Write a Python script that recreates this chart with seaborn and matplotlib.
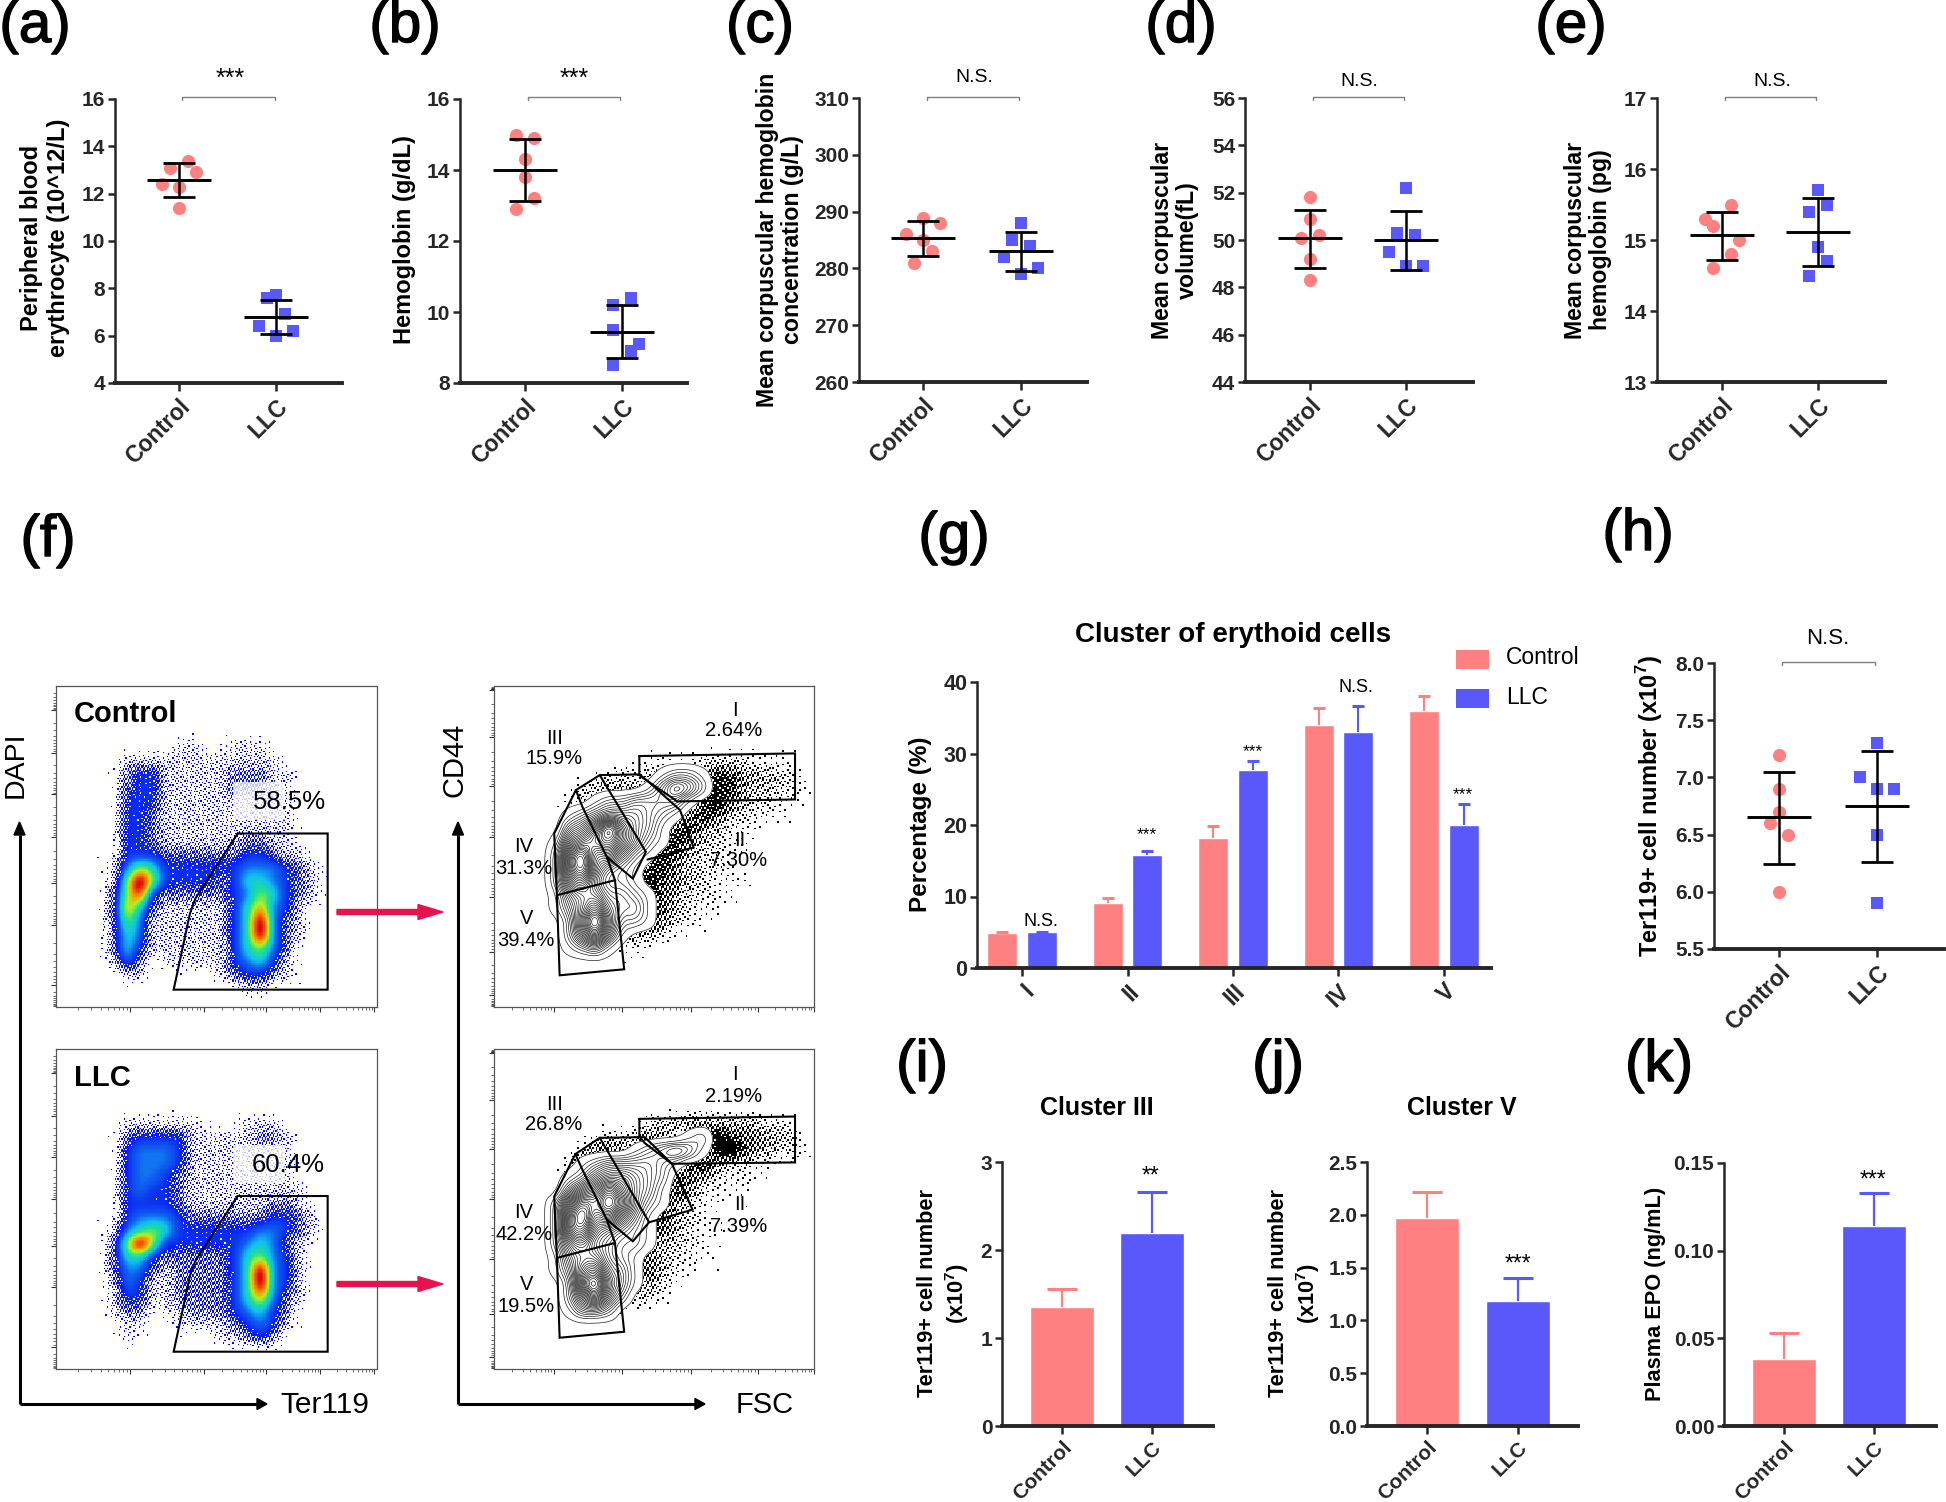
import numpy as np
import pandas as pd
import matplotlib
matplotlib.use("Agg")
import matplotlib.pyplot as plt
import matplotlib.patheffects as pe
from matplotlib.colors import LinearSegmentedColormap
from matplotlib.patches import Rectangle
import seaborn as sns

# colours
PINK = "#FF8080"
BLUE = "#5858FB"
GROUPS = ["Control", "LLC"]

# (a)-(e), (h): individual animals, with the sideways slot of each dot
rbc_ctrl = [13.4, 13.1, 12.9, 12.4, 12.3, 11.4]
rbc_ctrl_slot = [1, -1, 2, -2, 0, 0]
rbc_llc = [7.7, 7.6, 6.9, 6.4, 6.2, 6.0]
rbc_llc_slot = [0, -1, 1, -2, 2, 0]
rbc_mean, rbc_lo, rbc_hi = [12.56, 6.8], [11.86, 6.07], [13.28, 7.52]

hb_ctrl = [15.0, 14.9, 14.3, 13.8, 13.2, 12.9]
hb_ctrl_slot = [-1, 1, 0, 0, 1, -1]
hb_llc = [10.4, 10.2, 9.5, 9.1, 8.9, 8.5]
hb_llc_slot = [1, -1, -1, 2, 1, -1]
hb_mean, hb_lo, hb_hi = [14.0, 9.44], [13.14, 8.7], [14.87, 10.2]

mchc_ctrl = [288.9, 288, 286, 285, 283, 281]
mchc_ctrl_slot = [0, 2, -2, 0, 1, -1]
mchc_llc = [288, 285, 284, 282, 280, 279]
mchc_llc_slot = [0, -1, 1, -2, 2, 0]
mchc_mean, mchc_lo, mchc_hi = [285.3, 283], [282.2, 279.6], [288.3, 286.4]

mcv_ctrl = [51.8, 50.9, 50.2, 50.1, 49.2, 48.3]
mcv_ctrl_slot = [0, 0, 1, -1, 0, 0]
mcv_llc = [52.2, 50.3, 50.2, 49.5, 48.9, 48.9]
mcv_llc_slot = [0, -1, 1, -2, 0, 2]
mcv_mean, mcv_lo, mcv_hi = [50.07, 49.99], [48.83, 48.75], [51.28, 51.23]

mch_ctrl = [15.5, 15.3, 15.2, 15.0, 14.8, 14.6]
mch_ctrl_slot = [1, -2, -1, 2, 1, -1]
mch_llc = [15.7, 15.5, 15.4, 14.9, 14.7, 14.5]
mch_llc_slot = [0, 1, -1, 0, 1, -1]
mch_mean, mch_lo, mch_hi = [15.07, 15.11], [14.72, 14.63], [15.39, 15.59]

ter_ctrl = [7.2, 6.9, 6.7, 6.6, 6.5, 6.0]
ter_ctrl_slot = [0, 0, 0, -1, 1, 0]
ter_llc = [7.3, 7.0, 6.9, 6.9, 6.5, 5.9]
ter_llc_slot = [0, -2, 0, 2, 0, 0]
ter_mean, ter_lo, ter_hi = [6.65, 6.75], [6.24, 6.26], [7.05, 7.23]

# (g)
clusters = ["I", "II", "III", "IV", "V"]
cluster_ctrl = [4.9, 9.1, 18.2, 34.0, 35.9]
cluster_llc = [5.0, 15.8, 27.7, 33.0, 20.0]
cluster_ctrl_top = [5.0, 9.8, 19.8, 36.4, 38.0]
cluster_llc_top = [5.05, 16.3, 29.0, 36.6, 22.9]

# (i), (j), (k)
c3_vals, c3_top = [1.35, 2.19], [1.56, 2.66]
c5_vals, c5_top = [1.97, 1.18], [2.22, 1.40]
epo_vals, epo_top = [0.038, 0.114], [0.053, 0.133]

# (f): flow plots, density levels 0-9 read by eye on a 24x24 grid of each box
ctrl_density = [
    "", "", "", "",
    "00000000011001110",
    "000001111111111110",
    "000002331111122211",
    "000002331111122211",
    "000003331111111111",
    "000003321111111111",
    "000003321111111111",
    "000003321111112211",
    "0000033322222233211",
    "00001465333333444321",
    "00001696333323554321",
    "00002683222223465321",
    "0000275211111357431",
    "0000264111111359421",
    "0000254111111359421",
    "000025311111135642",
    "000014201111134531",
    "000001100000123321",
    "0000000000000011",
    "",
]
llc_density = [
    "", "", "", "", "",
    "000001111110001110",
    "000002333311111221",
    "000003444311111111",
    "000003444311111111",
    "000003443211111111",
    "0000034332111111111",
    "0000033332111111221",
    "00000344432222223321",
    "00001456533333344321",
    "0000269633333345421",
    "0000255322222356431",
    "0000244212222359431",
    "0000143112222359431",
    "0000133112222357421",
    "000012201122234532",
    "000001100111123431",
    "00000100000011232",
    "",
    "",
]
ctrl_contour = [
    "", "", "", "", "", "",
    "000000000000122100",
    "0000000000013542",
    "000000012233331",
    "00000123444321",
    "0000034696431",
    "0000156786421",
    "000027956421",
    "00002795321",
    "00002674221",
    "000014553321",
    "000013574331",
    "000002695221",
    "0000025741",
    "000001231",
    "", "", "", "",
]
llc_contour = [
    "", "", "", "", "", "",
    "0000000000000012",
    "0000000000123431",
    "00000012333321",
    "0000012455432",
    "0000035686431",
    "0000268797421",
    "000027967531",
    "000027854321",
    "000025643221",
    "00001455321",
    "00001367431",
    "00000279531",
    "0000025742",
    "000001332",
    "", "", "", "",
]
ctrl_dots = [
    "", "", "", "", "",
    "00000000000111122221111",
    "00000000121320036543321",
    "00000013444300027643322",
    "00000133100000057532211",
    "0000000000000046532211",
    "00000000000005643211",
    "0000000000005743211",
    "0000000000046532211",
    "000000000006643221",
    "0000000000375432111",
    "000000000006532211",
    "00000000000553211",
    "0000000000154211",
    "00000000034321",
    "00000000011",
    "", "", "", "",
]
llc_dots = [
    "", "", "", "", "",
    "00000000000234444333221",
    "00000001223530058654332",
    "000000255430000069643221",
    "000002530000005742211",
    "00000000000004532111",
    "0000000000003642111",
    "00000000000254211",
    "0000000000045321",
    "00000000002553211",
    "0000000000453221",
    "0000000000443211",
    "000000000035311",
    "00000000002421",
    "0000000002321",
    "0000000001",
    "", "", "", "",
]

# gates, in the coordinates of the zoomed crop of each box
density_gate = [(438, 520), (604, 520), (604, 988), (320, 988), (350, 760), (360, 715), (438, 520)]
ctrl_gates = [
    [(1180, 288), (1467, 280), (1467, 418), (1250, 424), (1197, 365), (1180, 345), (1180, 288)],
    [(1107, 345), (1180, 343), (1197, 365), (1255, 450), (1280, 562), (1195, 598)],
    [(1063, 390), (1107, 345), (1192, 575), (1168, 655), (1120, 590), (1075, 440), (1063, 390)],
    [(1063, 390), (1023, 520), (1028, 705), (1135, 660), (1120, 590)],
    [(1028, 705), (1033, 945), (1152, 927), (1135, 660)],
]
llc_gates = [
    [(1180, 267), (1467, 260), (1467, 398), (1240, 402), (1190, 340), (1180, 320), (1180, 267)],
    [(1107, 324), (1190, 322), (1240, 402), (1278, 540), (1198, 578)],
    [(1062, 373), (1107, 324), (1198, 578), (1168, 635), (1120, 570), (1075, 420), (1062, 373)],
    [(1062, 373), (1023, 500), (1028, 685), (1135, 640), (1120, 570)],
    [(1028, 685), (1033, 925), (1152, 907), (1135, 640)],
]

sns.set_theme(style="ticks")
plt.rcParams["font.family"] = ["Liberation Sans", "DejaVu Sans"]
plt.rcParams["mathtext.fontset"] = "custom"
plt.rcParams["mathtext.bf"] = "Liberation Sans:bold"
plt.rcParams["mathtext.rm"] = "Liberation Sans"

W, H = 1946, 1502
fig = plt.figure(figsize=(W / 100, H / 100), dpi=100, facecolor="white")


def axes_px(left, right, top, bottom):
    return fig.add_axes([left / W, 1 - bottom / H, (right - left) / W, (bottom - top) / H])


# everything that is not on a plot axis goes on this overlay, in pixels
overlay = fig.add_axes([0, 0, 1, 1], zorder=10)
overlay.set_xlim(0, W)
overlay.set_ylim(H, 0)
overlay.axis("off")
overlay.patch.set_visible(False)


def label(x, y, s, size, bold=False, rot=0, ha="center", color="black", ls=1.0):
    return overlay.text(x, y + (2 if rot == 0 else 0), s, fontsize=size,
                        fontweight="bold" if bold else "normal", rotation=rot, ha=ha, va="center",
                        color=color, linespacing=ls, rotation_mode="anchor")


def bracket(x0, x1, y):
    overlay.plot([x0, x0, x1, x1], [y + 3, y, y, y + 3], color="#808080", lw=1.0)


def style_axis(ax, yticks, yfmt, tick_size=15, x_size=16.5):
    sns.despine(ax=ax)
    ax.spines["left"].set_linewidth(1.8)
    ax.spines["bottom"].set_linewidth(2.8)
    ax.tick_params(axis="y", length=5, width=1.8, pad=2, labelsize=tick_size)
    ax.tick_params(axis="x", length=5.5, width=1.8, pad=3)
    ax.set_yticks(yticks)
    ax.set_yticklabels([yfmt % v for v in yticks], fontweight="bold")
    plt.setp(ax.get_xticklabels(), rotation=45, ha="right", rotation_mode="anchor",
             fontweight="bold", fontsize=x_size)
    ax.set_xlabel("")
    ax.set_ylabel("")


def dot_panel(box, ctrl, ctrl_slot, llc, llc_slot, mean, lo, hi, yticks, yfmt="%d"):
    left, right, top, bottom, x_ctrl, x_llc = box
    ax = axes_px(left, right, top, bottom)
    step = x_llc - x_ctrl
    slot = 8.6 / step
    sns.scatterplot(x=np.array(ctrl_slot) * slot, y=ctrl, color=PINK, s=90, marker="o", linewidth=0,
                    ax=ax, clip_on=False)
    sns.scatterplot(x=1 + np.array(llc_slot) * slot, y=llc, color=BLUE, s=85, marker="s", linewidth=0,
                    ax=ax, clip_on=False)
    ax.set_xlim((left - x_ctrl) / step, (right - x_ctrl) / step)
    ax.set_ylim(yticks[0], yticks[-1])
    ax.set_xticks([0, 1])
    ax.set_xticklabels(GROUPS)
    mean, lo, hi = np.array(mean), np.array(lo), np.array(hi)
    ax.errorbar([0, 1], mean, yerr=[mean - lo, hi - mean], fmt="none", ecolor="black",
                elinewidth=1.8, capsize=11.5, capthick=2, zorder=6)
    ax.hlines(mean, [-0.33, 0.67], [0.33, 1.33], color="black", lw=2.1, zorder=6)
    style_axis(ax, yticks, yfmt)
    return ax


def upper_error(ax, x, val, tp, col, lw, cap):
    # only the upper whisker, no cap on the bar top
    ax.vlines(x, val, tp, color=col, lw=lw)
    ax.plot([x], [tp], marker="_", markersize=cap, markeredgewidth=2.2, color=col, clip_on=False)


def bar_panel(box, vals, tops, yticks, yfmt):
    left, right, top, bottom, x_ctrl, x_llc = box
    ax = axes_px(left, right, top, bottom)
    sns.barplot(x=GROUPS, y=vals, hue=GROUPS, palette=[PINK, BLUE], width=0.71, legend=False,
                errorbar=None, saturation=1, ax=ax)
    step = x_llc - x_ctrl
    ax.set_xlim((left - x_ctrl) / step, (right - x_ctrl) / step)
    ax.set_ylim(yticks[0], yticks[-1])
    for i, col in enumerate([PINK, BLUE]):
        upper_error(ax, i, vals[i], tops[i], col, 1.6, 22)
    style_axis(ax, yticks, yfmt, x_size=15)
    return ax


# (a)-(e)
dot_panel((115, 342, 99, 383, 179, 276), rbc_ctrl, rbc_ctrl_slot, rbc_llc, rbc_llc_slot,
          rbc_mean, rbc_lo, rbc_hi, [4, 6, 8, 10, 12, 14, 16])
dot_panel((460, 687, 99, 383, 525, 622), hb_ctrl, hb_ctrl_slot, hb_llc, hb_llc_slot,
          hb_mean, hb_lo, hb_hi, [8, 10, 12, 14, 16])
dot_panel((859, 1087, 98, 382, 923, 1021), mchc_ctrl, mchc_ctrl_slot, mchc_llc, mchc_llc_slot,
          mchc_mean, mchc_lo, mchc_hi, [260, 270, 280, 290, 300, 310])
dot_panel((1245, 1473, 98, 382, 1310, 1406), mcv_ctrl, mcv_ctrl_slot, mcv_llc, mcv_llc_slot,
          mcv_mean, mcv_lo, mcv_hi, [44, 46, 48, 50, 52, 54, 56])
dot_panel((1657, 1885, 98, 382, 1722, 1818), mch_ctrl, mch_ctrl_slot, mch_llc, mch_llc_slot,
          mch_mean, mch_lo, mch_hi, [13, 14, 15, 16, 17])
# (h)
dot_panel((1714, 1944, 663, 949, 1779, 1877), ter_ctrl, ter_ctrl_slot, ter_llc, ter_llc_slot,
          ter_mean, ter_lo, ter_hi, [5.5, 6.0, 6.5, 7.0, 7.5, 8.0], "%.1f")

# (g)
ax_g = axes_px(977, 1491, 682, 968)
df_g = pd.DataFrame({
    "cluster": clusters * 2,
    "pct": cluster_ctrl + cluster_llc,
    "group": ["Control"] * 5 + ["LLC"] * 5,
})
sns.barplot(data=df_g, x="cluster", y="pct", hue="group", order=clusters, hue_order=GROUPS,
            palette=[PINK, BLUE], width=0.754, gap=0.245, legend=False, errorbar=None, saturation=1, ax=ax_g)
ax_g.set_xlim(-0.427, 4.446)
ax_g.set_ylim(0, 40)
for bars, tops, col in zip(ax_g.containers, [cluster_ctrl_top, cluster_llc_top], [PINK, BLUE]):
    for bar, tp in zip(bars, tops):
        upper_error(ax_g, bar.get_x() + bar.get_width() / 2, bar.get_height(), tp, col, 1.5, 9.2)
style_axis(ax_g, [0, 10, 20, 30, 40], "%d", tick_size=15.5, x_size=16.5)

# (i), (j), (k)
bar_panel((1002, 1213, 1162, 1426, 1062, 1152), c3_vals, c3_top, [0, 1, 2, 3], "%d")
bar_panel((1367, 1578, 1162, 1426, 1427, 1518), c5_vals, c5_top, [0, 0.5, 1.0, 1.5, 2.0, 2.5], "%.1f")
bar_panel((1724, 1936, 1163, 1426, 1784, 1874), epo_vals, epo_top, [0, 0.05, 0.10, 0.15], "%.2f")


# (f): the flow plots are rebuilt from the hand-read grids above
def read_grid(rows):
    return np.array([[int(c) for c in r.ljust(24, "0")] for r in rows], dtype=float)


def upsample(rows, n):
    z = np.kron(read_grid(rows), np.ones((n, n)))
    kernel = np.ones(n) / n
    for _ in range(2):
        z = np.apply_along_axis(lambda v: np.convolve(v, kernel, mode="same"), 0, z)
        z = np.apply_along_axis(lambda v: np.convolve(v, kernel, mode="same"), 1, z)
    return z


def dither(shape):
    # fixed low-discrepancy threshold, turns a level into a share of speckled dots
    i, j = np.indices(shape)
    return (i * 0.7549 + j * 0.5698) % 1.0


jet_like = LinearSegmentedColormap.from_list("flow", [
    (0.0, "#0000FF"), (0.22, "#0A20F0"), (0.38, "#1060F0"), (0.5, "#10C0F0"),
    (0.62, "#20E090"), (0.74, "#B0F020"), (0.86, "#FF9000"), (1.0, "#E00808"),
])


def flow_box(ax, x_major, y_major):
    for s in ax.spines.values():
        s.set_visible(True)
        s.set_linewidth(0.9)
        s.set_color("#555555")
    x_minor = []
    edges = [0] + list(x_major)
    for a, b in zip(edges[:-1], edges[1:]):
        x_minor += list(a + (b - a) * np.log10(np.arange(2, 10)))
    y_minor = []
    edges = [0] + list(y_major) + [100]
    for a, b in zip(edges[:-1], edges[1:]):
        y_minor += list(a + (b - a) * np.log10(np.arange(2, 10)))
    ax.set_xticks(x_major)
    ax.set_xticks(x_minor, minor=True)
    ax.set_yticks(y_major)
    ax.set_yticks(y_minor, minor=True)
    ax.set_xticklabels([])
    ax.set_yticklabels([])
    ax.tick_params(which="major", length=3.5, width=0.8, color="#333333")
    ax.tick_params(which="minor", length=2, width=0.5, color="#333333")
    ax.set_xlim(0, 100)
    ax.set_ylim(100, 0)
    sns.despine(ax=ax, top=False, right=False)


def draw_gate(ax, pts, x0, y0, w, h, lw=1.5):
    arr = np.array(pts, dtype=float)
    ax.plot((arr[:, 0] - x0) / w * 100, (arr[:, 1] - y0) / h * 100, color="black", lw=lw,
            solid_joinstyle="miter", zorder=5)


def density_panel(box, rows):
    ax = axes_px(*box)
    z = upsample(rows, 10)
    z = z / z.max() * 9
    rgba = jet_like(np.clip((z - 1.5) / 7.5, 0, 1))
    keep = np.clip(z / 3.5, 0, 1) ** 1.5 > dither(z.shape)
    rgba[~keep] = (1, 1, 1, 1)
    ax.imshow(rgba, extent=(-1.35, 98.65, 100, 0), interpolation="nearest", aspect="auto", zorder=1)
    ax.add_patch(Rectangle((55.2, 29.9), 16, 12, facecolor="white", alpha=0.75, edgecolor="none", zorder=2))
    draw_gate(ax, density_gate, 103, 78, 592, 962)
    flow_box(ax, [23.1, 46, 65.4, 82.3, 99.2], [7.5, 20.8, 33.8, 47, 61.5, 74.5, 93.2])


def contour_panel(box, dot_rows, contour_rows, gates, gate_top):
    ax = axes_px(*box)
    d = upsample(dot_rows, 8)
    mask = (d / 7) ** 1.3 > dither(d.shape)
    rgba = np.ones(mask.shape + (4,))
    rgba[mask] = (0, 0, 0, 1)
    ax.imshow(rgba, extent=(0, 100, 100, 0), interpolation="nearest", aspect="auto", zorder=1)
    z = upsample(contour_rows, 8)
    z = z / z.max() * 9
    n = z.shape[0]
    xs = (np.arange(n) + 0.5) / n * 100
    ax.contourf(xs, xs, z, levels=[0.5, 20], colors="white", zorder=2)
    levels = 0.5 + 8.3 * np.linspace(0, 1, 28) ** 0.7
    ax.contour(xs, xs, z, levels=levels, colors="#202020", linewidths=0.5, zorder=3)
    for g in gates:
        draw_gate(ax, g, 912, gate_top, 590, 962)
    flow_box(ax, [18.8, 40, 61.5, 82.5, 100], [1.2, 16, 31.2, 47, 65.7, 82.8, 96.4])


density_panel((56, 377, 686, 1007), ctrl_density)
density_panel((56, 377, 1049, 1369), llc_density)
contour_panel((494, 814, 686, 1007), ctrl_dots, ctrl_contour, ctrl_gates, 78)
contour_panel((494, 814, 1049, 1369), llc_dots, llc_contour, llc_gates, 57)

# flow axes arrows
for xv, xh in [(19.5, 267), (458, 705)]:
    overlay.plot([xv, xv], [1404, 835], color="black", lw=2.2, solid_capstyle="butt")
    overlay.plot([xv, xh - 10], [1404, 1404], color="black", lw=2.2, solid_capstyle="butt")
    overlay.arrow(xv, 835, 0, -13, width=0.1, head_width=11, head_length=13, color="black",
                  length_includes_head=True)
    overlay.arrow(xh - 10, 1404, 10, 0, width=0.1, head_width=11, head_length=10, color="black",
                  length_includes_head=True)
for y in [912, 1284]:
    overlay.arrow(337, y, 106, 0, width=5, head_width=15, head_length=25, color="#E8134E",
                  length_includes_head=True)

label(16, 765, "DAPI", 20.5, rot=90)
label(454, 760, "CD44", 21, rot=90)
label(325, 1403, "Ter119", 21.5)
label(765, 1403, "FSC", 21)
label(74, 712, "Control", 21, bold=True, ha="left")
label(74, 1076, "LLC", 21, bold=True, ha="left")
label(289, 800, "58.5%", 18.5)
label(288, 1163, "60.4%", 18.5)

# gate labels: full px centres
flow_ctrl_txt = [(735, 708, "I"), (734, 729, "2.64%"), (555, 737, "III"), (554, 757, "15.9%"),
                 (524, 845, "IV"), (524, 867, "31.3%"), (527, 917, "V"), (526, 939, "39.4%"),
                 (740, 838, "II"), (739, 859, "7.30%")]
flow_llc_txt = [(735, 1073, "I"), (734, 1095, "2.19%"), (555, 1102, "III"), (554, 1123, "26.8%"),
                (524, 1211, "IV"), (524, 1232, "42.2%"), (527, 1282, "V"), (526, 1304, "19.5%"),
                (740, 1203, "II"), (739, 1224, "7.39%")]
for x, y, s in flow_ctrl_txt + flow_llc_txt:
    label(x, y, s, 14.5)

# panel letters, a bit heavier than regular
for x, y, s in [(35, 25, "(a)"), (405, 25, "(b)"), (760, 25, "(c)"), (1181, 25, "(d)"), (1571, 25, "(e)"),
                (48, 539, "(f)"), (954, 536, "(g)"), (1638, 533, "(h)"),
                (922, 1064, "(i)"), (1278, 1064, "(j)"), (1659, 1064, "(k)")]:
    t = label(x, y, s, 42)
    t.set_path_effects([pe.withStroke(linewidth=1.0, foreground="black")])

# y labels
label(45, 238, "Peripheral blood\nerythrocyte (10^12/L)", 17, bold=True, rot=90, ls=1.25)
label(404, 240, "Hemoglobin (g/dL)", 17, bold=True, rot=90)
label(780, 240, "Mean corpuscular hemoglobin\nconcentration (g/L)", 16.7, bold=True, rot=90, ls=1.12)
label(1175, 240, "Mean corpuscular\nvolume(fL)", 16.7, bold=True, rot=90, ls=1.12)
label(1588, 240, "Mean corpuscular\nhemoglobin (pg)", 16.7, bold=True, rot=90, ls=1.12)
label(920, 824, "Percentage (%)", 17.5, bold=True, rot=90)
label(1650, 806, r"Ter119+ cell number (x10$^{\mathbf{7}}$)", 17, bold=True, rot=90)
label(944, 1293, "Ter119+ cell number\n" + r"(x10$^{\mathbf{7}}$)", 15.7, bold=True, rot=90, ls=1.25)
label(1295, 1293, "Ter119+ cell number\n" + r"(x10$^{\mathbf{7}}$)", 15.7, bold=True, rot=90, ls=1.25)
label(1656, 1294, "Plasma EPO (ng/mL)", 15.7, bold=True, rot=90)

# significance marks
bracket(182, 275, 97)
bracket(528, 620, 97)
bracket(927, 1019, 97)
bracket(1313, 1404, 97)
bracket(1725, 1816, 97)
bracket(1782, 1875, 662)
label(230, 77, "***", 18)
label(574, 77, "***", 18)
label(974, 75, "N.S.", 14)
label(1359, 80, "N.S.", 14)
label(1772, 80, "N.S.", 14)
label(1828, 636, "N.S.", 16)
label(1041, 919, "N.S.", 13)
label(1356, 686, "N.S.", 13)
label(1147, 833, "***", 12.5)
label(1253, 750, "***", 12.5)
label(1463, 793, "***", 12.5)
label(1151, 1174, "**", 16.5)
label(1518, 1262, "***", 16.5)
label(1873, 1178, "***", 16.5)

# titles and legend of (g)
label(1233, 633, "Cluster of erythoid cells", 20, bold=True)
label(1097, 1106, "Cluster III", 18, bold=True)
label(1462, 1106, "Cluster V", 18, bold=True)
overlay.add_patch(Rectangle((1456, 650), 33, 19, facecolor=PINK, edgecolor="none"))
overlay.add_patch(Rectangle((1456, 689), 33, 19, facecolor=BLUE, edgecolor="none"))
label(1506, 656, "Control", 16.5, ha="left")
label(1506, 696, "LLC", 16.5, ha="left")

fig.savefig("out.png", dpi=100, facecolor="white")
